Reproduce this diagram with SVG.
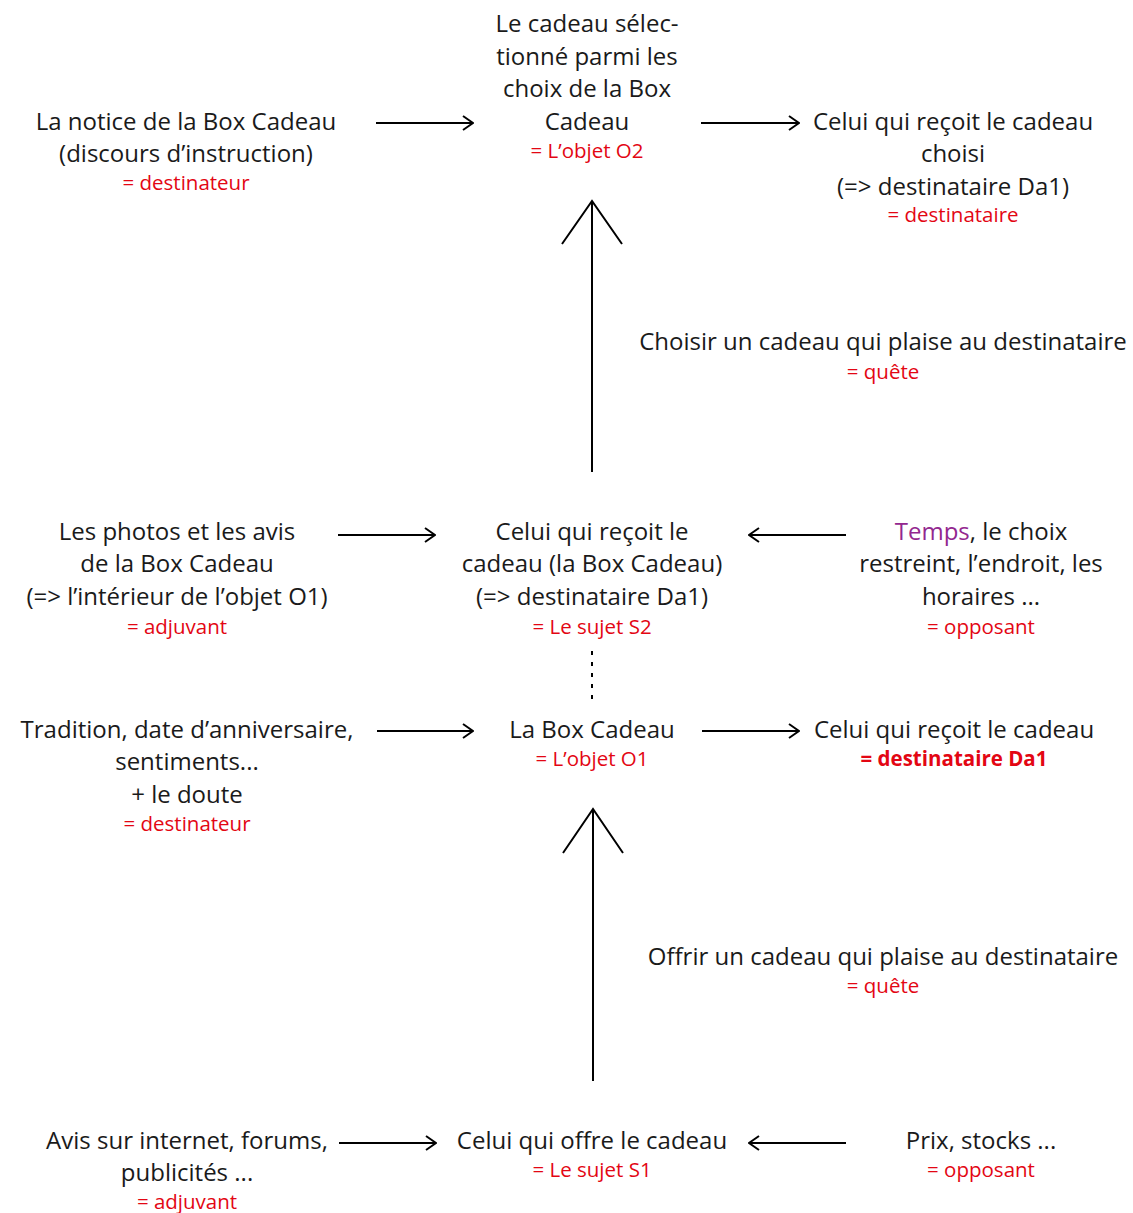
<svg xmlns="http://www.w3.org/2000/svg" width="1133" height="1213" viewBox="0 0 1133 1213">
<defs>
<style>
text{font-family:"Open Sans","Noto Sans",sans-serif;text-anchor:middle}
.t{font-size:24px;fill:#1a1a1a}
.r{font-size:20.5px;fill:#e30613}
.b{font-weight:bold}
.p{fill:#93278f}
.c{stroke:#000;stroke-width:2;fill:none}
</style>
<marker id="ah" viewBox="0 0 12 16" refX="11" refY="8" markerWidth="12" markerHeight="16" markerUnits="userSpaceOnUse" orient="auto">
<path d="M1,1 L11,8 L1,15" fill="none" stroke="#000" stroke-width="2"/>
</marker>
</defs>
<rect width="1133" height="1213" fill="#fff"/>
<g id="connectors">
<line class="c" x1="376" y1="123" x2="473" y2="123" marker-end="url(#ah)"/>
<line class="c" x1="701" y1="123" x2="799" y2="123" marker-end="url(#ah)"/>
<line class="c" x1="592" y1="472" x2="592" y2="201"/>
<path class="c" d="M562,244 L592,201 L622,244"/>
<line class="c" x1="338" y1="535" x2="435" y2="535" marker-end="url(#ah)"/>
<line class="c" x1="846" y1="535" x2="749" y2="535" marker-end="url(#ah)"/>
<line class="c" x1="592" y1="651" x2="592" y2="699" stroke-dasharray="4,7"/>
<line class="c" x1="377" y1="731" x2="473" y2="731" marker-end="url(#ah)"/>
<line class="c" x1="702" y1="731" x2="799" y2="731" marker-end="url(#ah)"/>
<line class="c" x1="593" y1="1081" x2="593" y2="809"/>
<path class="c" d="M563,853 L593,809 L623,853"/>
<line class="c" x1="339" y1="1143" x2="436" y2="1143" marker-end="url(#ah)"/>
<line class="c" x1="846" y1="1143" x2="749" y2="1143" marker-end="url(#ah)"/>
</g>
<g id="objet-o2">
<text class="t" x="587" y="32">Le cadeau sélec-</text>
<text class="t" x="587" y="65">tionné parmi les</text>
<text class="t" x="587" y="97">choix de la Box</text>
<text class="t" x="587" y="130">Cadeau</text>
<text class="r" x="587" y="158">= L’objet O2</text>
</g>
<g id="destinateur-notice">
<text class="t" x="186" y="130">La notice de la Box Cadeau</text>
<text class="t" x="186" y="162">(discours d’instruction)</text>
<text class="r" x="186" y="190">= destinateur</text>
</g>
<g id="destinataire-choisi">
<text class="t" x="953" y="130">Celui qui reçoit le cadeau</text>
<text class="t" x="953" y="162">choisi</text>
<text class="t" x="953" y="195">(=&gt; destinataire Da1)</text>
<text class="r" x="953" y="222">= destinataire</text>
</g>
<g id="quete-choisir">
<text class="t" x="883" y="350">Choisir un cadeau qui plaise au destinataire</text>
<text class="r" x="883" y="379">= quête</text>
</g>
<g id="adjuvant-photos">
<text class="t" x="177" y="540">Les photos et les avis</text>
<text class="t" x="177" y="572">de la Box Cadeau</text>
<text class="t" x="177" y="605">(=&gt; l’intérieur de l’objet O1)</text>
<text class="r" x="177" y="634">= adjuvant</text>
</g>
<g id="sujet-s2">
<text class="t" x="592" y="540">Celui qui reçoit le</text>
<text class="t" x="592" y="572">cadeau (la Box Cadeau)</text>
<text class="t" x="592" y="605">(=&gt; destinataire Da1)</text>
<text class="r" x="592" y="634">= Le sujet S2</text>
</g>
<g id="opposant-temps">
<text class="t" x="981" y="540"><tspan class="p">Temps</tspan>, le choix</text>
<text class="t" x="981" y="572">restreint, l’endroit, les</text>
<text class="t" x="981" y="605">horaires ...</text>
<text class="r" x="981" y="634">= opposant</text>
</g>
<g id="destinateur-tradition">
<text class="t" x="187" y="738">Tradition, date d’anniversaire,</text>
<text class="t" x="187" y="770">sentiments...</text>
<text class="t" x="187" y="803">+ le doute</text>
<text class="r" x="187" y="831">= destinateur</text>
</g>
<g id="objet-o1">
<text class="t" x="592" y="738">La Box Cadeau</text>
<text class="r" x="592" y="766">= L’objet O1</text>
</g>
<g id="destinataire-da1">
<text class="t" x="954" y="738">Celui qui reçoit le cadeau</text>
<text class="r b" x="954" y="766">= destinataire Da1</text>
</g>
<g id="quete-offrir">
<text class="t" x="883" y="965">Offrir un cadeau qui plaise au destinataire</text>
<text class="r" x="883" y="993">= quête</text>
</g>
<g id="adjuvant-avis">
<text class="t" x="187" y="1149">Avis sur internet, forums,</text>
<text class="t" x="187" y="1181">publicités ...</text>
<text class="r" x="187" y="1209">= adjuvant</text>
</g>
<g id="sujet-s1">
<text class="t" x="592" y="1149">Celui qui offre le cadeau</text>
<text class="r" x="592" y="1177">= Le sujet S1</text>
</g>
<g id="opposant-prix">
<text class="t" x="981" y="1149">Prix, stocks ...</text>
<text class="r" x="981" y="1177">= opposant</text>
</g>
</svg>
